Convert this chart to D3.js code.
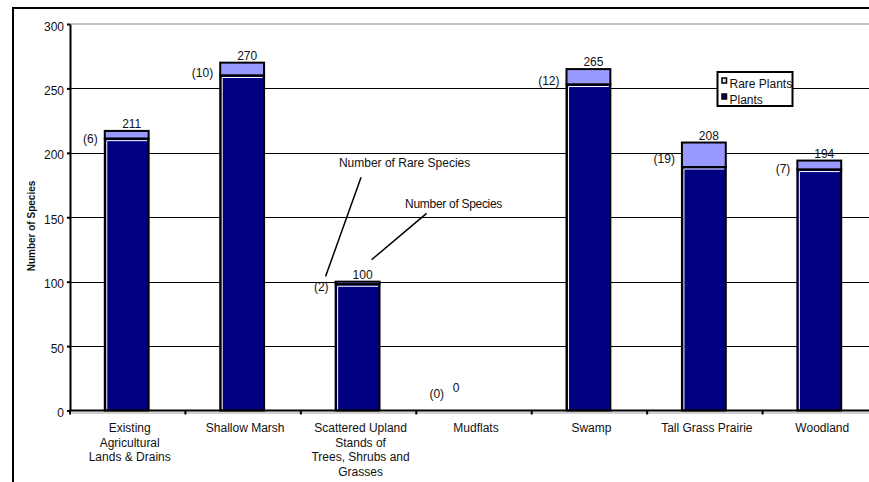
<!DOCTYPE html>
<html>
<head>
<meta charset="utf-8">
<script src="https://cdn.jsdelivr.net/npm/d3@7"></script>
<style>
  html, body { margin: 0; padding: 0; background: #fff; }
  svg { display: block; font-family: Arial, "Liberation Sans", sans-serif; }
</style>
</head>
<body>
<svg id="chart" width="869" height="482"></svg>
<script>
// Habitat categories, each split into its display lines
const categories = ["Existing Agricultural Lands & Drains", "Shallow Marsh",
  "Scattered Upland Stands of Trees, Shrubs and Grasses", "Mudflats",
  "Swamp", "Tall Grass Prairie", "Woodland"];
const categoryLines = [
  ["Existing", "Agricultural", "Lands & Drains"],
  ["Shallow Marsh"],
  ["Scattered Upland", "Stands of", "Trees, Shrubs and", "Grasses"],
  ["Mudflats"],
  ["Swamp"],
  ["Tall Grass Prairie"],
  ["Woodland"]
];
// Stacked series: common plants (bottom) and rare plants (top)
const plants = [211, 260, 98, 0, 253, 189, 187];
const rarePlants = [6, 10, 2, 0, 12, 19, 7];
// Number of species printed above each bar
const speciesLabels = [211, 270, 100, 0, 265, 208, 194];
const yTicks = [0, 50, 100, 150, 200, 250, 300];
const seriesNames = ["Rare Plants", "Plants"];

const NAVY = "#000080", LIGHT = "#9999FF", GRID_GREY = "#C0C0C0";
const svg = d3.select("#chart");

// Outer chart frame
svg.append("rect").attr("x", 13).attr("y", 8).attr("width", 900).attr("height", 520)
  .attr("fill", "none").attr("stroke", "#000").attr("stroke-width", 2);

const plotLeft = 70, plotRight = 878, plotTop = 24, plotBottom = 410.5;
const x = d3.scaleBand().domain(categories).range([plotLeft, plotRight]).padding(0);
const y = d3.scaleLinear().domain([0, 300]).range([plotBottom, plotTop]);
const barW = x.bandwidth() * 0.38;
const center = c => x(c) + x.bandwidth() / 2;

// Plot-area border (grey) and horizontal gridlines
svg.append("line").attr("x1", plotLeft).attr("x2", 900)
  .attr("y1", y(300)).attr("y2", y(300))
  .attr("stroke", GRID_GREY).attr("stroke-width", 2);
svg.append("line").attr("x1", plotLeft).attr("x2", 900)
  .attr("y1", plotBottom + 2.5).attr("y2", plotBottom + 2.5)
  .attr("stroke", GRID_GREY).attr("stroke-width", 1.5);
svg.append("g").selectAll("line").data(yTicks.filter(t => t > 0 && t < 300)).join("line")
  .attr("x1", plotLeft).attr("x2", 900)
  .attr("y1", d => Math.round(y(d)) + 0.5).attr("y2", d => Math.round(y(d)) + 0.5)
  .attr("stroke", "#000").attr("stroke-width", 1);

// Bars
const bars = svg.append("g").selectAll("g").data(categories).join("g");
bars.each(function (c, i) {
  const g = d3.select(this);
  const p = plants[i], r = rarePlants[i];
  const bx = center(c) - 1 - barW / 2;
  if (r > 0) {
    g.append("rect").attr("x", bx).attr("y", y(p + r))
      .attr("width", barW).attr("height", y(p) - y(p + r))
      .attr("fill", LIGHT).attr("stroke", "#000").attr("stroke-width", 2);
  }
  if (p > 0) {
    g.append("rect").attr("x", bx).attr("y", y(p))
      .attr("width", barW).attr("height", y(0) - y(p))
      .attr("fill", NAVY).attr("stroke", "#000").attr("stroke-width", 2);
    // white highlight along the inner top and left edges
    g.append("path")
      .attr("d", `M${bx + 2},${y(0) - 1} L${bx + 2},${y(p) + 2} L${bx + barW - 1.5},${y(p) + 2}`)
      .attr("fill", "none").attr("stroke", "#fff").attr("stroke-width", 1);
  }
});

// Axes
const yAxis = svg.append("g").attr("transform", `translate(${plotLeft},0)`)
  .call(d3.axisLeft(y).tickValues(yTicks).tickSize(3).tickPadding(3).tickSizeOuter(0));
yAxis.select(".domain").attr("stroke-width", 2);
yAxis.selectAll(".tick line").attr("stroke-width", 2);
yAxis.selectAll("text").attr("font-size", 12).attr("fill", "#111").attr("dy", "0.5em");

svg.append("line").attr("x1", plotLeft - 1).attr("x2", 900)
  .attr("y1", plotBottom).attr("y2", plotBottom)
  .attr("stroke", "#000").attr("stroke-width", 2);
svg.append("g").selectAll("line").data(categories).join("line")
  .attr("x1", c => x(c)).attr("x2", c => x(c))
  .attr("y1", plotBottom).attr("y2", plotBottom + 4)
  .attr("stroke", "#000").attr("stroke-width", 2);

// Category labels
const catG = svg.append("g").selectAll("text").data(categories).join("text")
  .attr("text-anchor", "middle").attr("font-size", 12).attr("fill", "#111");
catG.each(function (c, i) {
  d3.select(this).selectAll("tspan").data(categoryLines[i]).join("tspan")
    .attr("x", center(c) + 2).attr("y", (d, k) => 432 + k * 14.5).text(d => d);
});

// Y axis title
svg.append("text")
  .attr("transform", "translate(35,226) rotate(-90)")
  .attr("text-anchor", "middle").attr("font-size", 10).attr("font-weight", "bold")
  .attr("fill", "#111").text("Number of Species");

// Value labels: rare count to the left, species total above
const labels = svg.append("g").attr("font-size", 12).attr("fill", "#111");
categories.forEach((c, i) => {
  const p = plants[i], r = rarePlants[i];
  const bx = center(c) - 1 - barW / 2;
  const rareY = Math.min(y(p + r / 2) + 8.3, plotBottom - 12.5);
  const rareRight = bx - 7;
  labels.append("text").attr("x", rareRight).attr("y", rareY)
    .attr("text-anchor", "end").text(`(${r})`);
  if (p + r > 0) {
    labels.append("text").attr("x", center(c) + 4).attr("y", y(p + r) - 3)
      .attr("text-anchor", "middle").text(speciesLabels[i]);
  } else {
    labels.append("text").attr("x", rareRight + 12).attr("y", rareY - 6)
      .attr("text-anchor", "middle").text(speciesLabels[i]);
  }
});

// Annotations explaining the two label types, attached to the upland bar
const cx = center(categories[2]) - 1;
const ann = svg.append("g").attr("font-size", 12).attr("fill", "#111");
ann.append("text").attr("x", cx + 47).attr("y", y(189)).attr("text-anchor", "middle")
  .text("Number of Rare Species");
ann.append("line").attr("x1", cx + 3.5).attr("y1", y(181)).attr("x2", cx - 32).attr("y2", y(104))
  .attr("stroke", "#000").attr("stroke-width", 1.5);
ann.append("text").attr("x", cx + 96).attr("y", y(157)).attr("text-anchor", "middle")
  .attr("letter-spacing", -0.3).text("Number of Species");
ann.append("line").attr("x1", cx + 69).attr("y1", y(153)).attr("x2", cx + 14).attr("y2", y(117))
  .attr("stroke", "#000").attr("stroke-width", 1.5);

// Legend
const legend = svg.append("g").attr("transform", "translate(717.5,72)");
legend.append("rect").attr("width", 75).attr("height", 34)
  .attr("fill", "#fff").attr("stroke", "#000").attr("stroke-width", 2);
const legendFill = [LIGHT, NAVY];
seriesNames.forEach((name, i) => {
  const ly = 6 + i * 16;
  legend.append("rect").attr("x", 4.5).attr("y", ly).attr("width", 4.5).attr("height", 5)
    .attr("fill", i === 0 ? "#e6e6ff" : legendFill[i]).attr("stroke", "#000").attr("stroke-width", 1.5);
  legend.append("text").attr("x", 12).attr("y", ly + 9.5)
    .attr("font-size", 12).attr("fill", "#111").text(name);
});
</script>
</body>
</html>
